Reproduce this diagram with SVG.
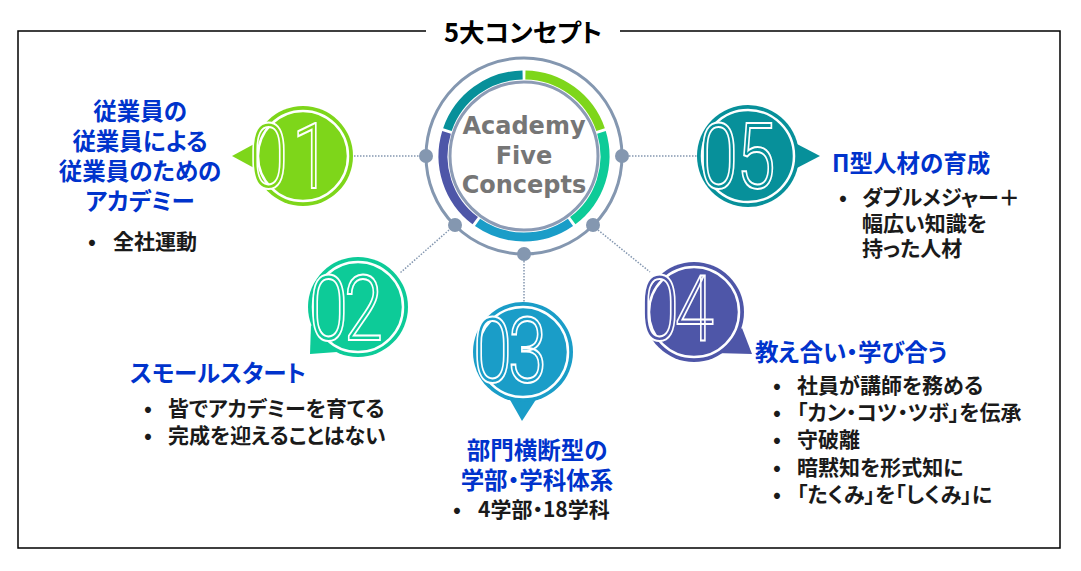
<svg xmlns="http://www.w3.org/2000/svg" width="1081" height="571" viewBox="0 0 1081 571">
<style>
.jp{font-family:"Noto Sans CJK JP","Noto Sans",sans-serif;font-weight:bold;font-feature-settings:"palt" 1;}
.h{font-size:23.5px;fill:#0033CC;}
.b{font-size:21px;fill:#1a1a1a;}
.c{text-anchor:middle;}
.num{font-family:Roboto,"DejaVu Sans",sans-serif;font-weight:300;font-size:90px;stroke:#fff;stroke-width:2;}
.ring{fill:none;stroke-width:9;}
.conn{fill:none;stroke:#8497B0;stroke-width:1.5;stroke-dasharray:1.5 1.5;}
.dot{fill:#8497B0;}
.inner{fill:none;stroke:#fff;stroke-width:2.5;}
</style>
<rect width="1081" height="571" fill="#fff"/>
<g id="frame">
<path d="M426,31 H18 V548 H1060 V31 H620" fill="none" stroke="#000" stroke-width="1.5"/>
<text class="jp c" x="523" y="42" font-size="25.5" fill="#000">5大コンセプト</text>
</g>
<g id="connectors">
<line class="conn" x1="354" y1="156" x2="419" y2="156"/>
<line class="conn" x1="629" y1="156" x2="697" y2="156"/>
<line class="conn" x1="449" y1="230" x2="400" y2="273"/>
<line class="conn" x1="524" y1="261" x2="524" y2="302"/>
<line class="conn" x1="598" y1="230" x2="650" y2="272"/>
</g>
<g id="center">
<circle cx="524" cy="156" r="98" fill="none" stroke="#8497B0" stroke-width="3"/>
<circle cx="524" cy="156" r="74" fill="#fff" stroke="#8C9BB5" stroke-width="3"/>
<path class="ring" stroke="#7ED61A" d="M525.41,75.01 A81,81 0 0 1 600.59,129.63"/>
<path class="ring" stroke="#0DCB98" d="M601.46,132.32 A81,81 0 0 1 572.75,220.69"/>
<path class="ring" stroke="#1A9DC8" d="M570.46,222.35 A81,81 0 0 1 477.54,222.35"/>
<path class="ring" stroke="#4E56A8" d="M475.25,220.69 A81,81 0 0 1 446.54,132.32"/>
<path class="ring" stroke="#07909A" d="M447.41,129.63 A81,81 0 0 1 522.59,75.01"/>
<circle class="dot" cx="426" cy="156" r="7"/>
<circle class="dot" cx="622" cy="156" r="7"/>
<circle class="dot" cx="455" cy="225" r="7"/>
<circle class="dot" cx="593" cy="225" r="7"/>
<circle class="dot" cx="524" cy="254" r="7"/>
<text font-family="'DejaVu Sans',sans-serif" font-weight="bold" font-size="24" fill="#767676" text-anchor="middle"><tspan x="524" y="134">Academy</tspan><tspan x="524" y="164">Five</tspan><tspan x="524" y="193">Concepts</tspan></text>
</g>
<g id="badge01">
<polygon points="232,156 256,143 256,169" fill="#7ED61A"/>
<circle cx="303" cy="156" r="50" fill="#7ED61A"/>
<circle class="inner" cx="303" cy="156" r="45"/>
<text class="num" fill="#7ED61A" transform="translate(249,188) scale(0.78,1)" x="0 55">01</text>
</g>
<g id="badge02">
<polygon points="310,354 311,325 337,352" fill="#0DCB98"/>
<circle cx="358" cy="307" r="50" fill="#0DCB98"/>
<circle class="inner" cx="358" cy="307" r="45"/>
<text class="num" fill="#0DCB98" transform="translate(309,340) scale(0.78,1)" x="0 45">02</text>
</g>
<g id="badge03">
<polygon points="522,421 509,398 537,398" fill="#1A9DC8"/>
<circle cx="523" cy="352" r="50" fill="#1A9DC8"/>
<circle class="inner" cx="523" cy="352" r="45"/>
<text class="num" fill="#1A9DC8" transform="translate(473,382) scale(0.78,1)" x="0 45">03</text>
</g>
<g id="badge04">
<polygon points="752,354 742,328 715,353" fill="#4E56A8"/>
<circle cx="694" cy="312" r="50" fill="#4E56A8"/>
<circle class="inner" cx="694" cy="312" r="45"/>
<text class="num" fill="#4E56A8" transform="translate(640,340) scale(0.78,1)" x="0 45">04</text>
</g>
<g id="badge05">
<polygon points="820,156 795,143 795,169" fill="#07909A"/>
<circle cx="748" cy="156" r="51" fill="#07909A"/>
<circle class="inner" cx="748" cy="156" r="46"/>
<text class="num" fill="#07909A" transform="translate(699,188) scale(0.78,1)" x="0 48">05</text>
</g>
<g id="text01">
<text class="jp h c"><tspan x="140" y="120">従業員の</tspan><tspan x="140" y="150">従業員による</tspan><tspan x="140" y="180">従業員のための</tspan><tspan x="140" y="210">アカデミー</tspan></text>
<text class="jp b" x="88" y="249">•</text>
<text class="jp b" x="113" y="249">全社運動</text>
</g>
<g id="text02">
<text class="jp h" x="130" y="382">スモールスタート</text>
<text class="jp b"><tspan x="144" y="416">•</tspan><tspan x="144" y="443">•</tspan></text>
<text class="jp b"><tspan x="168" y="416">皆でアカデミーを育てる</tspan><tspan x="168" y="443">完成を迎えることはない</tspan></text>
</g>
<g id="text03">
<text class="jp h c"><tspan x="537" y="459">部門横断型の</tspan><tspan x="537" y="489">学部・学科体系</tspan></text>
<text class="jp b" x="453" y="517">•</text>
<text class="jp b" x="478" y="517">4学部・18学科</text>
</g>
<g id="text04">
<text class="jp h" x="755" y="361">教え合い・学び合う</text>
<text class="jp b"><tspan x="773" y="393">•</tspan><tspan x="773" y="420">•</tspan><tspan x="773" y="447">•</tspan><tspan x="773" y="475">•</tspan><tspan x="773" y="502">•</tspan></text>
<text class="jp b"><tspan x="797" y="393">社員が講師を務める</tspan><tspan x="797" y="420">「カン・コツ・ツボ」を伝承</tspan><tspan x="797" y="447">守破離</tspan><tspan x="797" y="475">暗黙知を形式知に</tspan><tspan x="797" y="502">「たくみ」を「しくみ」に</tspan></text>
</g>
<g id="text05">
<text class="jp h" x="832" y="172">Π型人材の育成</text>
<text class="jp b" x="839" y="205">•</text>
<text class="jp b"><tspan x="862" y="205">ダブルメジャー＋</tspan><tspan x="862" y="231">幅広い知識を</tspan><tspan x="862" y="256">持った人材</tspan></text>
</g>
</svg>
